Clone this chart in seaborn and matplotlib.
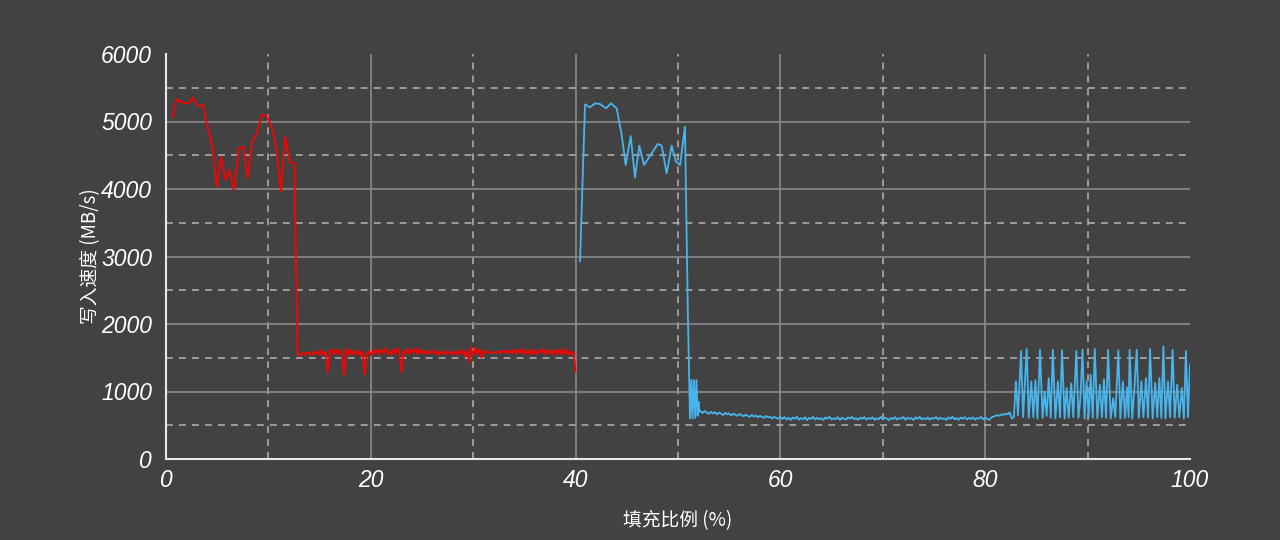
import numpy as np
import pandas as pd
import matplotlib
matplotlib.use('Agg')
import matplotlib.pyplot as plt
from matplotlib.ticker import MultipleLocator
import seaborn as sns


# ---- red run (first pass) ----
# sparse head, read point by point
red_head_x = [0.59, 1.04, 1.46, 1.89, 2.21, 2.60, 3.13, 3.58, 4.07, 4.56, 4.95, 5.37,
              5.80, 6.19, 6.64, 7.10, 7.55, 7.97, 8.40, 8.85, 9.38, 9.83, 10.35, 10.74,
              11.20, 11.65, 12.11, 12.53, 12.85, 13.00]
red_head_y = [5062, 5329, 5294, 5269, 5269, 5353, 5230, 5244, 4899, 4603, 4034, 4479,
              4133, 4281, 3985, 4603, 4627, 4158, 4701, 4825, 5106, 5086, 4899, 4627,
              3960, 4775, 4395, 4380, 1560, 1530]
# plateau, one sample every 0.2 % starting at 13.2 %
red_tail_y = [1550, 1575, 1545, 1580, 1555, 1540, 1585, 1560, 1600, 1535, 1610, 1550,
              1585, 1280, 1595, 1620, 1545, 1630, 1555, 1610, 1565, 1240, 1635, 1555,
              1615, 1540, 1600, 1555, 1610, 1525, 1590, 1250, 1555, 1600, 1535, 1610,
              1570, 1630, 1545, 1615, 1575, 1640, 1555, 1605, 1540, 1625, 1565, 1645,
              1555, 1280, 1605, 1565, 1635, 1555, 1615, 1575, 1645, 1550, 1625, 1565,
              1605, 1555, 1595, 1570, 1615, 1555, 1600, 1540, 1585, 1560, 1605, 1550,
              1590, 1565, 1555, 1605, 1535, 1595, 1560, 1615, 1525, 1605, 1430, 1655,
              1535, 1645, 1555, 1625, 1500, 1615, 1570, 1590, 1580, 1575, 1585, 1580,
              1590, 1570, 1600, 1580, 1610, 1565, 1605, 1570, 1625, 1555, 1615, 1575,
              1635, 1550, 1605, 1565, 1625, 1540, 1615, 1555, 1605, 1575, 1635, 1545,
              1620, 1565, 1605, 1535, 1625, 1560, 1615, 1545, 1635, 1555, 1605, 1540,
              1595, 1565, 1290]

# ---- blue run (second pass) ----
blue_head_x = [40.43, 40.92, 41.41, 41.89, 42.38, 42.97, 43.46, 44.01, 44.50, 44.89,
               45.38, 45.80, 46.22, 46.68, 47.35, 48.02, 48.40, 48.89, 49.38, 49.80,
               50.20, 50.68, 50.95, 51.17, 51.30, 51.42, 51.55, 51.68, 51.80, 51.92,
               52.00, 52.10]
blue_head_y = [2923, 5254, 5210, 5269, 5259, 5195, 5269, 5195, 4800, 4356,
               4785, 4168, 4642, 4356, 4510, 4667, 4642, 4232, 4642, 4405,
               4356, 4923, 2250, 600, 1170, 600, 1170, 610, 1170, 640,
               850, 700]
# low plateau, one sample every 0.2 % starting at 52.2 %
blue_mid_y = [705, 680, 712, 690, 668, 700, 675, 695, 660, 688, 672, 650, 684, 662,
              676, 645, 670, 655, 640, 668, 650, 632, 658, 640, 625, 652, 630, 645,
              618, 640, 622, 610, 638, 615, 628, 600, 625, 608, 596, 622,
              595, 620, 585, 610, 578, 615, 598, 625, 582, 605, 590, 618, 575, 608,
              596, 622, 584, 612, 590, 604, 578, 616, 598, 626, 586, 603, 592, 620,
              580, 610, 597, 585, 615, 600, 624, 588, 606, 579, 612, 595, 620, 583,
              607, 594, 618, 580, 602, 590, 625, 586, 611, 597, 576, 609, 591, 619,
              584, 605, 598, 622, 581, 613, 593, 607, 578, 617, 596, 624, 587, 604,
              589, 615, 582, 608, 599, 621, 585, 612, 592, 603, 579, 618, 595, 626,
              588, 606, 580, 614, 597, 620, 586, 609, 593, 617, 583, 605, 598, 623,
              589, 611, 594, 580, 616]
# oscillating tail, vertices
blue_tail_x = [81.2, 81.4, 81.6, 81.8, 82.0, 82.2, 82.4, 82.6, 82.8, 83.0, 83.2, 83.5,
               83.7, 84.05, 84.25, 84.5, 84.7, 84.9, 85.1, 85.35, 85.6, 85.8, 86.0, 86.2,
               86.4, 86.6, 86.85, 87.1, 87.3, 87.5, 87.75, 87.95, 88.15, 88.4, 88.6, 88.9,
               89.1, 89.3, 89.5, 89.7, 89.9, 90.1, 90.3, 90.5, 90.7, 90.95, 91.2, 91.4,
               91.6, 91.8, 92.0, 92.25, 92.5, 92.7, 93.0, 93.2, 93.45, 93.65, 93.85, 94.0,
               94.1, 94.35, 94.55, 94.8, 95.0, 95.25, 95.45, 95.7, 95.9, 96.1, 96.35, 96.6,
               96.8, 97.0, 97.2, 97.4, 97.6, 97.85, 98.05, 98.3, 98.5, 98.75, 98.95, 99.2,
               99.4, 99.6, 99.8, 100.0]
blue_tail_y = [650, 640, 662, 655, 670, 660, 690, 600, 620, 1150, 650, 1600,
               620, 1630, 610, 1150, 620, 1170, 600, 1620, 610, 1000, 640, 1200,
               610, 1620, 600, 1150, 620, 1610, 600, 1050, 610, 1120, 620, 1600,
               610, 900, 1620, 600, 1150, 620, 1250, 610, 1630, 600, 1100, 620,
               1180, 610, 1620, 600, 900, 620, 1610, 600, 1150, 610, 1060, 620,
               1620, 600, 1000, 1620, 610, 1150, 620, 1200, 610, 1630, 600, 1130,
               620, 1200, 610, 1670, 600, 1150, 620, 1620, 610, 1100, 620, 1050,
               600, 1600, 620, 1400]

x_ticks = [0, 20, 40, 60, 80, 100]
y_ticks = [0, 1000, 2000, 3000, 4000, 5000, 6000]

bg = '#424242'
sns.set_theme(style='dark')
plt.rcParams['font.family'] = ['Liberation Sans', 'DejaVu Sans']

red_x = red_head_x + list(13.2 + 0.2 * np.arange(len(red_tail_y)))
red_y = red_head_y + red_tail_y
blue_x = blue_head_x + list(52.2 + 0.2 * np.arange(len(blue_mid_y))) + blue_tail_x
blue_y = blue_head_y + blue_mid_y + blue_tail_y

df = pd.concat([
    pd.DataFrame({'fill': red_x, 'speed': red_y, 'run': 'red'}),
    pd.DataFrame({'fill': blue_x, 'speed': blue_y, 'run': 'blue'}),
])

fig = plt.figure(figsize=(12.8, 5.4), dpi=100, facecolor=bg)
ax = fig.add_axes([0.1297, 0.15, 0.8, 0.75])
ax.set_facecolor(bg)

# grid first so the lines sit on top
ax.xaxis.set_minor_locator(MultipleLocator(10))
ax.yaxis.set_minor_locator(MultipleLocator(500))
ax.grid(which='major', color='#8a8a8a', linewidth=1.2, linestyle='-')
ax.grid(which='minor', color='#b4b4b4', linewidth=1.1, linestyle=(0, (4.5, 4)))
ax.set_axisbelow(True)

sns.lineplot(data=df, x='fill', y='speed', hue='run', units='run', estimator=None,
             sort=False, palette={'red': '#ff0000', 'blue': '#48b4ec'},
             linewidth=1.3, legend=False, ax=ax)

ax.set_xlim(0, 100)
ax.set_ylim(0, 6000)
ax.set_xticks(x_ticks)
ax.set_yticks(y_ticks)
tick_font = dict(fontsize=16.5, style='italic', color='white',
                 family=['Liberation Sans', 'DejaVu Sans'])
ax.set_xticklabels([str(v) for v in x_ticks], **tick_font)
ax.set_yticklabels([str(v) for v in y_ticks], **tick_font)

# no grid line along the open top and right edges
ax.get_xgridlines()[-1].set_visible(False)
ax.get_ygridlines()[-1].set_visible(False)

for side in ['top', 'right']:
    ax.spines[side].set_visible(False)
for side in ['left', 'bottom']:
    ax.spines[side].set_color('#e8e8e8')
    ax.spines[side].set_linewidth(1.5)

ax.tick_params(axis='y', which='major', direction='out', length=6, width=1.2,
               color='#e8e8e8', pad=4)
ax.tick_params(axis='y', which='minor', direction='out', length=4, width=1.0,
               color='#e8e8e8')
ax.tick_params(axis='x', which='major', direction='inout', length=9, width=1.2,
               color='#e8e8e8', pad=3)
ax.tick_params(axis='x', which='minor', direction='inout', length=7, width=1.0,
               color='#e8e8e8')

label_font = dict(fontsize=13.5, color='white', family=['Noto Sans CJK SC', 'DejaVu Sans'])
ax.set_xlabel('填充比例 (%)', **label_font)
ax.set_ylabel('写入速度 (MB/s)', **label_font)
ax.yaxis.label.set_va('center')
ax.xaxis.label.set_va('center')
ax.yaxis.set_label_coords(-0.074, 0.5)
ax.xaxis.set_label_coords(0.5, -0.151)

fig.savefig('out.png', dpi=100, facecolor=bg)
